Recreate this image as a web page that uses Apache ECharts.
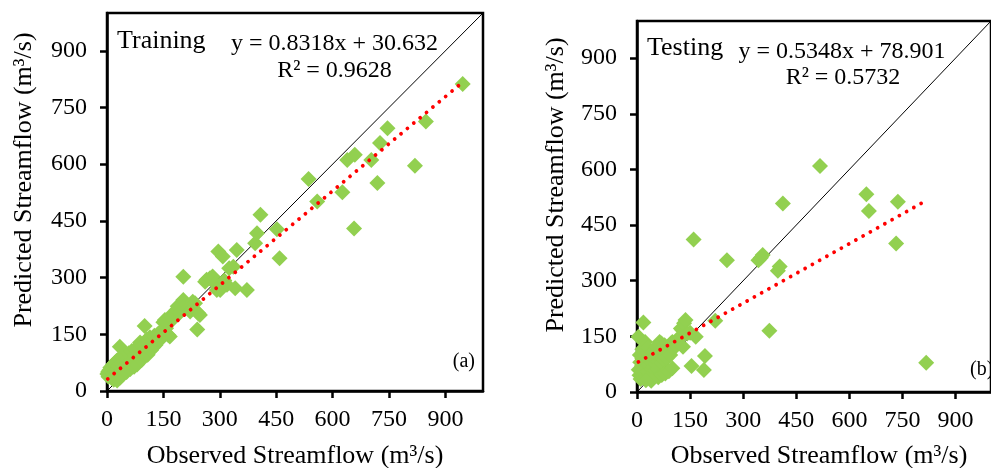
<!DOCTYPE html>
<html>
<head>
<meta charset="utf-8">
<title>Streamflow</title>
<script src="https://cdn.jsdelivr.net/npm/echarts@6/dist/echarts.min.js"></script>
<style>
  html, body { margin: 0; padding: 0; background: #fff; }
  #main { width: 991px; height: 468px; }
</style>
</head>
<body>
<div id="main"></div>
<script>
// tick values shared by both panels
var ticks = [0, 150, 300, 450, 600, 750, 900];

// training set: [observed, predicted] (m3/s)
var trainPoints = [
  [1,45],[3,50],[4,38],[6,55],[8,42],[9,62],[11,50],[12,35],[14,58],[15,68],[17,44],[18,30],
  [20,62],[21,74],[23,52],[24,40],[26,80],[27,28],[29,58],[30,66],[31,46],[33,86],[34,117],[35,36],
  [37,72],[38,54],[40,92],[41,62],[43,44],[45,78],[47,58],[48,98],[50,70],[52,50],[54,84],[56,64],
  [58,100],[60,76],[62,58],[64,90],[66,106],[68,70],[70,84],[72,64],[74,96],[76,112],[78,80],[80,70],
  [82,100],[84,118],[86,90],[88,128],[90,108],[92,82],[94,120],[96,98],[100,172],[103,112],[106,136],
  [108,96],[111,124],[114,142],[117,108],[120,130],[123,116],[126,146],[129,122],[132,138],[135,150],
  [139,153],[142,136],[146,160],[150,182],[154,188],[157,166],[160,178],[163,148],[167,144],[170,200],
  [175,190],[180,204],[185,214],[188,224],[194,208],[203,302],[203,241],[210,228],[216,219],[221,210],
  [228,236],[234,232],[240,163],[243,206],[247,201],[261,289],[265,294],[274,298],[281,303],[287,285],
  [292,267],[296,369],[301,267],[308,356],[312,292],[319,281],[325,325],[336,329],[341,272],[345,373],
  [372,267],[394,391],[399,417],[408,466],[452,428],[459,351],[536,561],[559,501],[626,526],[639,611],
  [657,430],[659,625],[703,611],[719,550],[726,656],[746,695],[819,596],[848,713],[946,812]
];

// testing set: [observed, predicted] (m3/s)
var testPoints = [
  [4,149],[18,187],[23,135],[8,100],[5,60],[7,45],[9,80],[10,35],[12,55],[14,70],[15,90],[17,42],
  [19,60],[20,105],[22,50],[24,78],[26,40],[28,65],[30,88],[32,55],[34,72],[36,45],[38,95],[40,62],
  [42,80],[44,50],[46,68],[48,90],[50,58],[52,75],[55,100],[57,62],[60,82],[62,70],[64,135],[66,92],
  [69,131],[70,78],[73,105],[76,88],[79,96],[82,110],[85,92],[88,115],[91,122],[94,100],[96,131],
  [100,135],[104,118],[108,128],[112,140],[116,132],[120,145],[124,171],[128,167],[130,122],[133,185],
  [137,194],[142,158],[150,160],[154,70],[160,411],[166,149],[189,59],[192,97],[221,192],[254,355],
  [343,355],[350,362],[355,369],[374,165],[398,327],[403,338],[412,508],[517,609],[648,533],[655,488],
  [732,400],[737,513],[817,79],
  [15,115],[30,120],[45,110],[55,122],[78,126],[60,40],[70,46],[80,50],[90,56],[100,64],[40,30],[25,32]
];

// fitted trend line end points
var trainTrend = [[2, 32], [946, 817]];
var testTrend = [[4, 81], [817, 516]];
// 1:1 line
var oneToOne = [[0, 0], [1000, 1000]];

var trainLabels = { name: 'Training', eq: 'y = 0.8318x + 30.632', r2: 'R² = 0.9628', tag: '(a)' };
var testLabels = { name: 'Testing', eq: 'y = 0.5348x + 78.901', r2: 'R² = 0.5732', tag: '(b)' };

var FONT = 'Liberation Serif';
var GREEN = '#92D050';

var myChart = echarts.init(document.getElementById('main'));

function makeAxis(gridIndex) {
  return {
    type: 'value',
    gridIndex: gridIndex,
    min: 0,
    max: 1000,
    interval: 150,
    splitLine: { show: false },
    axisLine: { show: true, lineStyle: { color: '#000', width: 2.5 } },
    axisTick: { show: true, inside: false, length: 7, customValues: ticks, lineStyle: { color: '#000', width: 2.5 } },
    // tick labels are placed below as graphic text at the axis' own pixel positions
    axisLabel: { show: false }
  };
}

function txt(x, y, text, size, align, rot) {
  return {
    type: 'text', x: x, y: y, rotation: rot || 0, z: 100,
    style: { text: text, fill: '#000', font: size + 'px ' + FONT, align: align || 'center', verticalAlign: 'middle' }
  };
}

option = {
  animation: false,
  backgroundColor: '#fff',
  grid: [
    { left: 107, top: 13, width: 376, height: 378, show: true, borderColor: '#000', borderWidth: 2.5, backgroundColor: 'transparent' },
    { left: 637, top: 21, width: 364, height: 371, show: true, borderColor: '#000', borderWidth: 2.5, backgroundColor: 'transparent' }
  ],
  xAxis: [makeAxis(0), makeAxis(1)],
  yAxis: [makeAxis(0), makeAxis(1)],
  series: [
    { type: 'line', xAxisIndex: 0, yAxisIndex: 0, data: oneToOne, symbol: 'none', lineStyle: { color: '#000', width: 1 }, z: 2 },
    { type: 'scatter', xAxisIndex: 0, yAxisIndex: 0, data: trainPoints, symbol: 'diamond', symbolSize: 16, itemStyle: { color: GREEN, opacity: 1 }, z: 3 },
    { type: 'line', xAxisIndex: 0, yAxisIndex: 0, data: trainTrend, symbol: 'none', lineStyle: { color: '#FF0000', width: 3.8, type: [0.01, 8.3], cap: 'round' }, z: 4 },
    { type: 'line', xAxisIndex: 1, yAxisIndex: 1, data: oneToOne, symbol: 'none', lineStyle: { color: '#000', width: 1 }, z: 2 },
    { type: 'scatter', xAxisIndex: 1, yAxisIndex: 1, data: testPoints, symbol: 'diamond', symbolSize: 16, itemStyle: { color: GREEN, opacity: 1 }, z: 3 },
    { type: 'line', xAxisIndex: 1, yAxisIndex: 1, data: testTrend, symbol: 'none', lineStyle: { color: '#FF0000', width: 3.8, type: [0.01, 8.3], cap: 'round' }, z: 4 }
  ]
};

myChart.setOption(option);

var graphics = [
  // axis titles
  txt(24, 180, 'Predicted Streamflow (m³/s)', 26, 'center', Math.PI / 2),
  txt(295, 456, 'Observed Streamflow (m³/s)', 26, 'center'),
  txt(556, 185, 'Predicted Streamflow (m³/s)', 26, 'center', Math.PI / 2),
  txt(819, 456, 'Observed Streamflow (m³/s)', 26, 'center'),
  // panel (a)
  txt(117, 41.5, trainLabels.name, 26, 'left'),
  txt(334.5, 44, trainLabels.eq, 24, 'center'),
  txt(334.5, 71, trainLabels.r2, 24, 'center'),
  txt(475, 362, trainLabels.tag, 20, 'right'),
  // panel (b)
  txt(647, 48.5, testLabels.name, 26, 'left'),
  txt(842, 52, testLabels.eq, 24, 'center'),
  txt(843, 78, testLabels.r2, 24, 'center'),
  txt(970, 370, testLabels.tag, 20, 'left')
];

// tick labels, 24px, positioned through each panel's axes
[0, 1].forEach(function (g) {
  var origin = myChart.convertToPixel({ xAxisIndex: g, yAxisIndex: g }, [0, 0]);
  ticks.forEach(function (t) {
    var px = myChart.convertToPixel({ xAxisIndex: g, yAxisIndex: g }, [t, t]);
    graphics.push(txt(px[0], origin[1] + 29, String(t), 24, 'center'));
    graphics.push(txt(origin[0] - 20, px[1], String(t), 24, 'right'));
  });
});

myChart.setOption({ graphic: graphics });
</script>
</body>
</html>
